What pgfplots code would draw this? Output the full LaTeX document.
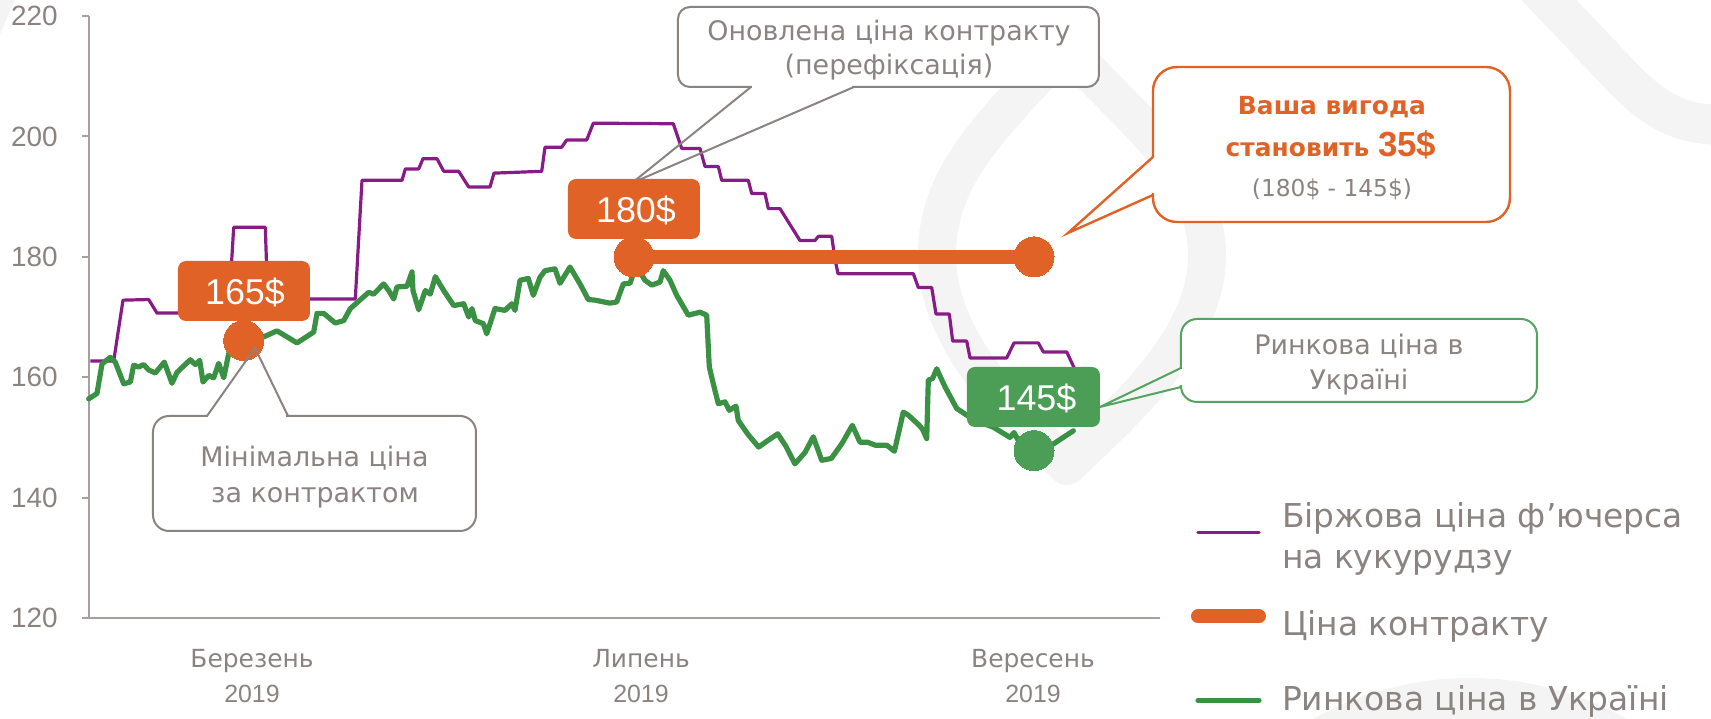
\documentclass[border=0pt]{standalone}
\usepackage{fontspec}
\setmainfont{DejaVu Sans}
\newfontfamily\numfont{Liberation Sans}
\usepackage{pgfplots}
\pgfplotsset{compat=1.18}
\definecolor{txtgray}{RGB}{139,131,128}
\definecolor{axgray}{RGB}{165,160,157}
\definecolor{corange}{RGB}{224,98,38}
\definecolor{cpurple}{RGB}{136,27,134}
\definecolor{cgreen}{RGB}{58,145,68}
\definecolor{cgreenbox}{RGB}{76,158,86}
\definecolor{cgreenln}{RGB}{84,163,94}
\definecolor{wm}{RGB}{244,244,244}
\begin{document}
\begin{tikzpicture}
\path[use as bounding box] (0bp,0bp) rectangle (855.5bp,-359.5bp);
\begin{scope}[x=0.5bp,y=-0.5bp]
\begin{scope}
\clip (0,0) rectangle (1711,719);
\draw[wm, line width=19bp, line join=round]
  (1065,45) .. controls (1000,120) and (937,170) .. (937,255)
  .. controls (937,340) and (1010,410) .. (1067,466)
  .. controls (1125,410) and (1207,340) .. (1207,255)
  .. controls (1207,170) and (1130,120) .. (1065,45) -- cycle;
\draw[wm, line width=20bp] (1530,-20) -- (1625,80) .. controls (1665,120) and (1690,125) .. (1730,125);
\fill[wm] (0,0) -- (15,0) -- (0,34) -- cycle;
\fill[wm] (1470,999) circle (321);
\end{scope}
\end{scope}

\begin{axis}[
  at={(44.5bp,-309bp)}, anchor=south west,
  scale only axis, width=535.5bp, height=301bp,
  xmin=89, xmax=1160, ymin=120, ymax=220,
  clip=false,
  axis lines=left,
  axis line style={-, axgray, line width=1bp},
  ytick={120,140,...,220},
  ytick style={axgray, line width=1bp},
  tick align=outside, major tick length=3.5bp,
  xtick={252,641,1033},
  xticklabels={{Березень\\{\numfont 2019}},{Липень\\{\numfont 2019}},{Вересень\\{\numfont 2019}}},
  xtick style={draw=none},
  xticklabel style={align=center, font=\fontsize{12.5}{17.5}\selectfont, text=txtgray, inner sep=0pt, anchor=north, yshift=-12bp},
  yticklabel style={font=\numfont\fontsize{14}{14}\selectfont, text=txtgray, inner sep=0pt, anchor=east, xshift=-12bp},
  /pgf/number format/assume math mode=true,
  legend style={at={(axis cs:1191,140.03)}, anchor=north west, draw=none, fill=none,
    inner sep=0pt, outer sep=0pt, row sep=0pt,
    font=\fontsize{16.5}{20.5}\selectfont, text=txtgray,
    nodes={inner sep=0pt, text height=, text depth=},
    /tikz/every odd column/.append style={column sep=8bp}},
  legend cell align=left,
  legend image code/.code={\draw[#1, line cap=round] (0bp,0bp) -- (30.5bp,0bp);},
]
\addplot[cpurple, line width=1.6bp, line join=round] coordinates {
(90.3,162.7) (113.7,162.7) (123,172.8) (148.7,172.9) (157,170.65) (228.5,170.65)
(233.7,184.9) (265.3,184.9) (267.7,173.0) (355.3,173.0) (362,192.7) (402,192.7)
(405.3,194.6) (418.7,194.6) (423,196.3) (437,196.3) (443.7,194.2) (458.7,194.2)
(468.7,191.6) (490,191.6) (494,193.9) (541.7,194.2) (545,198.2) (561.7,198.2)
(566.7,199.4) (586.7,199.4) (593.3,202.2) (673.3,202.1) (681.7,198.0) (700,198.0)
(705,195.0) (718.3,195.0) (721.7,192.7) (748.3,192.7) (751.7,190.5) (765,190.5)
(768.3,188.0) (780,188.0) (800,182.7) (815,182.7) (818.3,183.4) (831.7,183.4)
(835,179.6) (838,177.2) (913.3,177.2) (918.3,174.9) (931.7,174.9) (936,170.5)
(949.3,170.5) (952.7,166.0) (966.7,166.0) (970,163.2) (1006.7,163.2) (1014,165.7)
(1038.3,165.7) (1043.3,164.2) (1066.7,164.2) (1076,160.9)
};
\addlegendentry{\raisebox{0pt}[15bp][20bp]{\begin{tabular}[t]{@{}l@{}}Біржова ціна ф'ючерса\\на кукурудзу\end{tabular}}}
\addlegendimage{corange, line width=7bp}
\addlegendentry{\raisebox{0pt}[34bp][15bp]{Ціна контракту}}
\addplot[cgreen, line width=2.6bp, line join=round, line cap=round] coordinates {
(88.7,156.4) (97,157.3) (102,162.2) (110.3,163.3) (115.3,162.5) (123.7,158.9)
(130.3,159.2) (133.7,162.0) (138.7,161.7) (143.7,162.1) (148.7,161.2) (155.3,160.7)
(164.3,162.5) (172,159.0) (177,160.8) (182,161.6) (190.3,162.9) (195.3,162.1)
(199.7,162.8) (203,159.2) (208.7,160.3) (213.7,159.9) (218.7,162.3) (223.7,159.9)
(228.7,163.9) (233.7,165.0) (245,166.0) (263.7,166.7) (277,167.7) (297,165.7)
(313.7,167.5) (317,170.6) (323.7,170.6) (335.3,169.0) (343.7,169.4) (350.3,171.4)
(368.7,174.1) (373.7,173.8) (383.7,175.5) (388.7,174.4) (393.7,173.0) (397,175.0)
(407,175.1) (412,177.5) (413,174.4) (418.7,171.2) (425.3,174.4) (430.3,173.8)
(435.3,176.7) (443.7,174.4) (453.7,171.9) (463.7,172.2) (468.7,170.0) (472,171.4)
(475.3,169.4) (483.3,168.9) (486.7,167.2) (495,171.4) (505,171.1) (511.7,172.2)
(515,171.1) (520,176.1) (528.3,176.4) (533.3,173.6) (540,176.6) (545,177.7)
(555,178.0) (560,175.6) (570,178.3) (580,175.5) (588.3,172.9) (595,172.8)
(610,172.3) (616.7,172.5) (623.3,175.5) (630,175.6) (636,178.5) (645,176.1)
(651.7,175.3) (660,175.8) (663.3,177.7) (670,176.1) (676.7,173.6) (688.3,170.3)
(700,170.8) (706.7,170.3) (709.3,161.7) (713.3,158.9) (718.3,155.6) (725,155.9)
(729.3,154.5) (736,155.2) (738.3,152.8) (748,150.5) (758.6,148.4) (768,149.5)
(777.7,150.6) (786,148.5) (794.9,145.6) (805,147.5) (813.3,150.1) (821.7,146.2)
(831.3,146.5) (842,149.0) (852.3,152.0) (860,149.2) (867.6,149.2) (875.3,148.7)
(886.8,148.7) (894.4,147.7) (903.3,154.2) (908.3,153.7) (919.3,152.0) (922.7,151.3)
(926.7,149.8) (928.3,159.5) (932.7,159.8) (936.7,161.4) (945,158.4) (956.7,154.8)
(966.7,153.7) (980,152.5) (993.3,151.7) (1010,150.0) (1014,150.8) (1018.3,149.5)
(1025,148.5) (1034,147.8) (1045,148.3) (1053.3,148.9) (1073.3,151.1)
};
\addlegendentry{\raisebox{0pt}[22.5bp][12.5bp]{Ринкова ціна в Україні}}
\addplot[corange, line width=7bp, mark=*, mark size=10bp, mark options={draw=corange, fill=corange, line width=0pt}, forget plot] coordinates {(634,180) (1034,180)};
\addplot[only marks, color=corange, mark=*, mark size=10bp, mark options={draw=corange, fill=corange, line width=0pt}, forget plot] coordinates {(243.7,166.1)};
\addplot[only marks, color=cgreenbox, mark=*, mark size=10bp, mark options={draw=cgreenbox, fill=cgreenbox, line width=0pt}, forget plot] coordinates {(1034,147.8)};
\end{axis}

\begin{scope}[x=0.5bp,y=-0.5bp]
% callout: updated price
\draw[txtgray, line width=1bp, fill=white, rounded corners=6bp] (678,7) rectangle (1099,87);
\draw[white, line width=1.8bp] (752.5,87) -- (852.5,87);
\draw[txtgray, line width=1bp, line join=miter] (751,87) -- (632,183) -- (854,87);
\node[anchor=base, text=txtgray, font=\fontsize{13.5}{16}\selectfont] at (889,40) {Оновлена ціна контракту};
\node[anchor=base, text=txtgray, font=\fontsize{13.5}{16}\selectfont] at (889,75) {(перефіксація)};
% callout: minimal price
\draw[txtgray, line width=1bp, fill=white, rounded corners=8bp] (153,416) rectangle (476,531);
\draw[white, line width=1.8bp] (208.5,416) -- (286.5,416);
\draw[txtgray, line width=1bp] (207,416) -- (255,348) -- (288,416);
\node[anchor=base, text=txtgray, font=\fontsize{13.5}{16}\selectfont] at (314.5,467) {Мінімальна ціна};
\node[anchor=base, text=txtgray, font=\fontsize{13.5}{16}\selectfont] at (315,503) {за контрактом};
% callout: benefit
\draw[corange, line width=1.2bp, fill=white, rounded corners=12bp] (1153,67) rectangle (1510,222);
\draw[white, line width=2bp] (1153,158.5) -- (1153,193.5);
\draw[corange, line width=1.2bp] (1153,157) -- (1068,233) -- (1153,195);
\node[anchor=base, text=corange, font=\fontsize{12.5}{15}\selectfont\bfseries] at (1332,115) {Ваша вигода};
\node[anchor=base, text=corange, font=\fontsize{12.5}{15}\selectfont\bfseries] at (1331,157) {становить {\numfont\bfseries\fontsize{17.5}{17.5}\selectfont 35\$}};
\node[anchor=base, text=txtgray, font=\fontsize{11.7}{14}\selectfont] at (1332,197) {(180\$ - 145\$)};
% callout: market price
\draw[cgreenln, line width=1bp, fill=white, rounded corners=8bp] (1181,319) rectangle (1537,402);
\draw[white, line width=1.8bp] (1181,369.5) -- (1181,385.5);
\draw[cgreenln, line width=1bp] (1181,368) -- (1100,407) -- (1181,387);
\node[anchor=base, text=txtgray, font=\fontsize{13.5}{16}\selectfont] at (1359,355) {Ринкова ціна в};
\node[anchor=base, text=txtgray, font=\fontsize{13.5}{16}\selectfont] at (1359,390) {Україні};
% value boxes
\fill[corange, rounded corners=4bp] (178,261) rectangle (310,321);
\node[anchor=base, text=white, font=\numfont\fontsize{18}{18}\selectfont] at (245,305) {165\$};
\fill[corange, rounded corners=4bp] (568,179) rectangle (700,239);
\node[anchor=base, text=white, font=\numfont\fontsize{18}{18}\selectfont] at (636,223) {180\$};
\fill[cgreenbox, rounded corners=4bp] (967,367) rectangle (1100,427);
\node[anchor=base, text=white, font=\numfont\fontsize{18}{18}\selectfont] at (1036.5,411) {145\$};
\end{scope}
\end{tikzpicture}
\end{document}
